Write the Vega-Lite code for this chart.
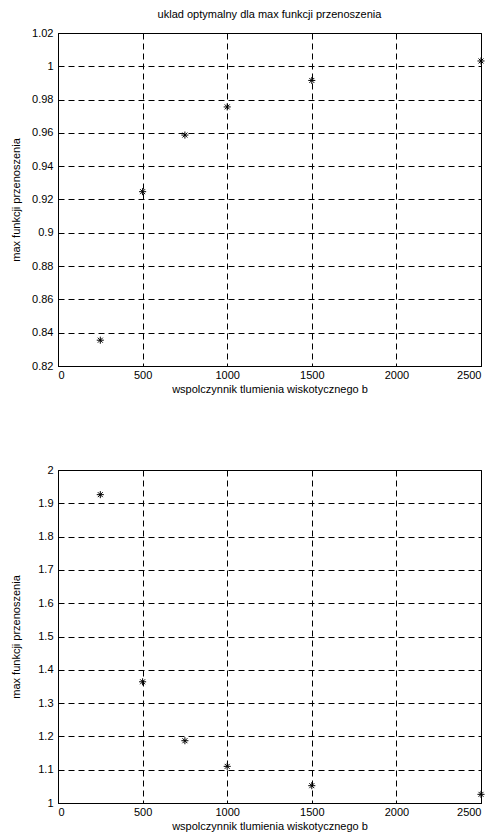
{
  "$schema": "https://vega.github.io/schema/vega-lite/v6.json",
  "background": "white",
  "padding": {"left": 9, "top": 8, "right": 5, "bottom": 5},
  "spacing": 68,
  "datasets": {
    "top": [
      {"b": 250, "max": 0.8355},
      {"b": 500, "max": 0.9247},
      {"b": 750, "max": 0.9587},
      {"b": 1000, "max": 0.9756},
      {"b": 1500, "max": 0.9915},
      {"b": 2500, "max": 1.0032}
    ],
    "bottom": [
      {"b": 250, "max": 1.926},
      {"b": 500, "max": 1.364},
      {"b": 750, "max": 1.187},
      {"b": 1000, "max": 1.110},
      {"b": 1500, "max": 1.052},
      {"b": 2500, "max": 1.026}
    ]
  },
  "config": {
    "font": "Liberation Sans",
    "view": {"stroke": "black", "strokeWidth": 1},
    "axis": {
      "labelFont": "Liberation Sans",
      "labelFontSize": 11,
      "labelColor": "black",
      "titleFont": "Liberation Sans",
      "titleFontSize": 11,
      "titleFontWeight": "normal",
      "titleColor": "black",
      "domainColor": "black",
      "ticks": false,
      "tickSize": 0,
      "grid": true,
      "gridColor": "black",
      "gridOpacity": 1,
      "gridDash": [6, 4],
      "gridWidth": 1
    },
    "axisY": {"labelPadding": 5, "minExtent": 27, "maxExtent": 27, "titlePadding": 10},
    "axisX": {"labelPadding": 3, "titlePadding": 3},
    "title": {"font": "Liberation Sans", "fontSize": 11, "fontWeight": "normal", "color": "black", "offset": 7}
  },
  "vconcat": [
    {
      "width": 423,
      "height": 333,
      "title": {"text": "uklad optymalny dla max funkcji przenoszenia", "anchor": "middle"},
      "data": {"name": "top"},
      "mark": {"type": "point", "shape": "M-1,0H1M0,-1V1M-0.7,-0.7L0.7,0.7M-0.7,0.7L0.7,-0.7", "filled": false, "stroke": "black", "strokeWidth": 1, "size": 50, "opacity": 1, "clip": false},
      "encoding": {
        "x": {"field": "b", "type": "quantitative", "scale": {"domain": [0, 2500], "nice": false}, "axis": {"values": [0, 500, 1000, 1500, 2000, 2500], "format": "d", "title": "wspolczynnik tlumienia wiskotycznego b"}},
        "y": {"field": "max", "type": "quantitative", "scale": {"domain": [0.82, 1.02], "nice": false, "zero": false}, "axis": {"values": [0.82, 0.84, 0.86, 0.88, 0.9, 0.92, 0.94, 0.96, 0.98, 1, 1.02], "format": "~g", "title": "max funkcji przenoszenia"}}
      }
    },
    {
      "width": 423,
      "height": 333,
      "data": {"name": "bottom"},
      "mark": {"type": "point", "shape": "M-1,0H1M0,-1V1M-0.7,-0.7L0.7,0.7M-0.7,0.7L0.7,-0.7", "filled": false, "stroke": "black", "strokeWidth": 1, "size": 50, "opacity": 1, "clip": false},
      "encoding": {
        "x": {"field": "b", "type": "quantitative", "scale": {"domain": [0, 2500], "nice": false}, "axis": {"values": [0, 500, 1000, 1500, 2000, 2500], "format": "d", "title": "wspolczynnik tlumienia wiskotycznego b"}},
        "y": {"field": "max", "type": "quantitative", "scale": {"domain": [1, 2], "nice": false, "zero": false}, "axis": {"values": [1, 1.1, 1.2, 1.3, 1.4, 1.5, 1.6, 1.7, 1.8, 1.9, 2], "format": "~g", "title": "max funkcji przenoszenia"}}
      }
    }
  ]
}
